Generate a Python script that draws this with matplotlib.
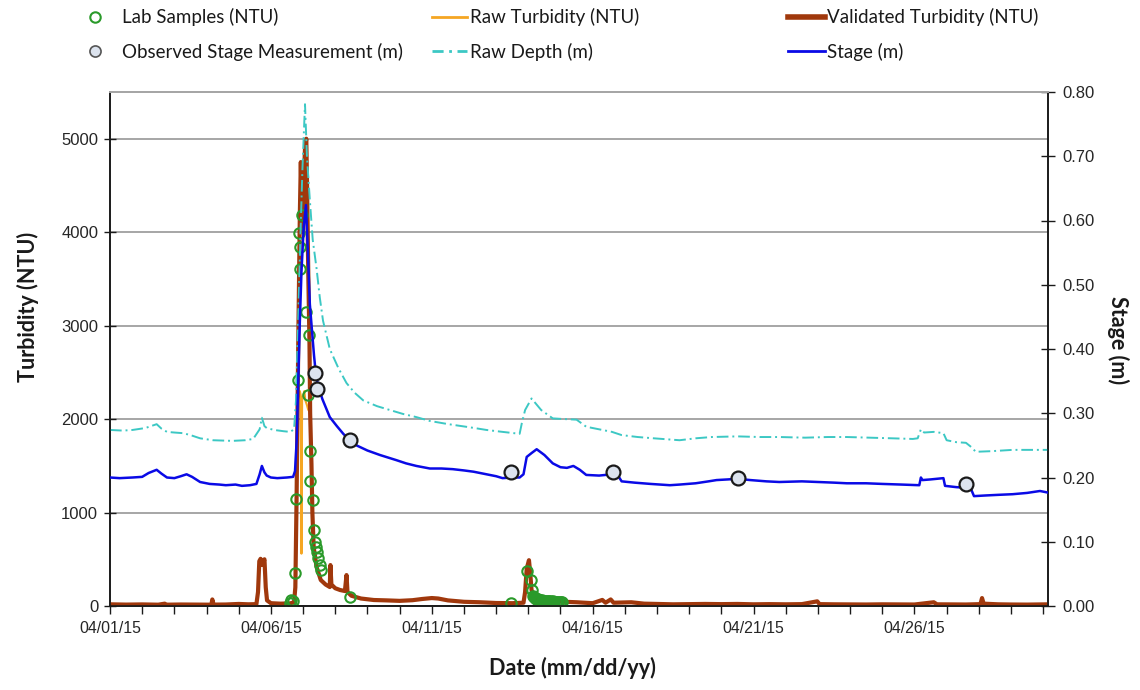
import numpy as np
import pandas as pd
import matplotlib
matplotlib.use("Agg")
import matplotlib.pyplot as plt
import matplotlib.dates as mdates
from matplotlib.lines import Line2D
from matplotlib.ticker import FixedLocator, FormatStrFormatter

# ---------------- DATA (days since 2015-04-01 00:00) ----------------
start_date = "2015-04-01"

stage_t = [0.0, 0.3, 0.7, 1.0, 1.2, 1.45, 1.6, 1.77, 2.0, 2.2, 2.38, 2.55, 2.8, 3.1, 3.4, 3.6, 3.9, 4.1,
           4.35, 4.55, 4.65, 4.72, 4.8, 4.87, 5.0, 5.2, 5.5, 5.69, 5.75, 5.80, 5.90, 5.95, 6.02, 6.09,
           6.15, 6.21, 6.34, 6.40, 6.47, 6.60, 6.83, 7.05, 7.25, 7.45, 7.66, 8.0, 8.39, 8.9, 9.2, 9.52,
           9.94, 10.3, 10.65, 11.0, 11.3, 11.7, 12.0, 12.2, 12.5, 12.73, 12.85, 12.95, 13.1, 13.26, 13.5,
           13.76, 14.0, 14.2, 14.4, 14.6, 14.8, 15.2, 15.6, 15.8, 15.9, 16.3, 16.8, 17.4, 17.7, 18.2, 18.6,
           18.85, 19.2, 19.5, 19.9, 20.4, 20.8, 21.5, 22.0, 22.5, 22.9, 23.5, 24.0, 24.6, 25.15, 25.2, 25.25,
           25.5, 25.9, 25.95, 26.3, 26.6, 26.75, 26.85, 27.2, 27.6, 28.05, 28.5, 28.9, 29.2]
stage_m = [0.200, 0.199, 0.200, 0.201, 0.207, 0.212, 0.206, 0.200, 0.199, 0.202, 0.205, 0.201, 0.193, 0.190,
           0.189, 0.188, 0.189, 0.187, 0.188, 0.190, 0.205, 0.218, 0.208, 0.203, 0.200, 0.199, 0.200, 0.201,
           0.210, 0.257, 0.443, 0.520, 0.590, 0.624, 0.550, 0.470, 0.390, 0.360, 0.342, 0.322, 0.294, 0.280,
           0.268, 0.258, 0.250, 0.242, 0.235, 0.227, 0.222, 0.218, 0.214, 0.214, 0.213, 0.211, 0.209, 0.205,
           0.202, 0.199, 0.200, 0.200, 0.205, 0.232, 0.238, 0.244, 0.235, 0.222, 0.216, 0.215, 0.218, 0.212,
           0.204, 0.203, 0.205, 0.202, 0.194, 0.192, 0.190, 0.188, 0.189, 0.191, 0.194, 0.196, 0.197, 0.198,
           0.196, 0.194, 0.193, 0.194, 0.193, 0.192, 0.191, 0.191, 0.190, 0.189, 0.188, 0.200, 0.196, 0.197,
           0.199, 0.187, 0.185, 0.184, 0.183, 0.171, 0.172, 0.173, 0.174, 0.176, 0.179, 0.176]

depth_t = [0.0, 0.4, 0.7, 1.1, 1.45, 1.6, 1.77, 2.0, 2.27, 2.5, 2.8, 3.2, 3.8, 4.2, 4.45, 4.65, 4.72, 4.8,
           4.87, 5.1, 5.4, 5.6, 5.72, 5.78, 5.85, 5.92, 5.98, 6.06, 6.12, 6.21, 6.3, 6.42, 6.52, 6.62, 6.83,
           7.1, 7.35, 7.6, 7.87, 8.3, 8.7, 9.1, 9.52, 9.94, 10.4, 10.65, 11.2, 11.7, 12.2, 12.73, 12.8, 12.9,
           13.1, 13.4, 13.76, 14.1, 14.5, 14.8, 15.2, 15.6, 15.9, 16.4, 16.9, 17.7, 18.2, 18.7, 19.5, 20.2,
           20.8, 21.6, 22.3, 22.9, 23.6, 24.3, 24.95, 25.1, 25.2, 25.3, 25.6, 25.9, 26.0, 26.3, 26.6, 26.8,
           26.9, 27.4, 28.05, 28.6, 29.2]
depth_m = [0.274, 0.273, 0.274, 0.277, 0.283, 0.276, 0.271, 0.270, 0.269, 0.266, 0.261, 0.258, 0.257, 0.258,
           0.260, 0.275, 0.293, 0.280, 0.277, 0.274, 0.272, 0.271, 0.275, 0.320, 0.450, 0.580, 0.680, 0.781,
           0.700, 0.632, 0.570, 0.525, 0.480, 0.444, 0.400, 0.370, 0.347, 0.332, 0.320, 0.311, 0.305, 0.299,
           0.294, 0.288, 0.284, 0.282, 0.278, 0.274, 0.271, 0.268, 0.285, 0.305, 0.323, 0.305, 0.292, 0.291,
           0.290, 0.279, 0.275, 0.271, 0.266, 0.263, 0.261, 0.258, 0.261, 0.263, 0.264, 0.263, 0.263, 0.262,
           0.263, 0.263, 0.262, 0.261, 0.260, 0.261, 0.275, 0.270, 0.271, 0.269, 0.258, 0.255, 0.254, 0.246,
           0.240, 0.241, 0.243, 0.243, 0.243]

turb_t = [0.0, 0.5, 1.0, 1.5, 1.7, 1.75, 2.2, 2.7, 3.15, 3.18, 3.22, 3.6, 4.0, 4.3, 4.55, 4.6, 4.64, 4.68,
          4.72, 4.76, 4.8, 4.84, 4.88, 5.0, 5.3, 5.6, 5.72, 5.76, 5.8, 5.85, 5.9, 5.93, 5.95, 5.98, 6.02,
          6.06, 6.1, 6.12, 6.16, 6.2, 6.22, 6.26, 6.29, 6.33, 6.42, 6.55, 6.7, 6.83, 6.85, 6.88, 7.0, 7.15,
          7.3, 7.35, 7.38, 7.5, 7.8, 8.2, 8.6, 9.0, 9.4, 9.7, 10.0, 10.2, 10.5, 11.0, 11.5, 12.0, 12.5,
          12.85, 12.9, 12.95, 13.02, 13.06, 13.1, 13.2, 13.5, 14.07, 14.5, 15.0, 15.3, 15.4, 15.56, 15.65,
          16.2, 16.6, 17.0, 17.5, 18.0, 18.5, 19.0, 19.5, 20.0, 20.5, 21.0, 21.5, 21.98, 22.05, 22.5, 23.0,
          23.5, 24.0, 24.5, 25.0, 25.6, 25.7, 26.2, 26.6, 27.05, 27.1, 27.15, 27.6, 28.0, 28.5, 29.2]
turb_ntu = [18, 15, 17, 14, 25, 14, 16, 15, 14, 70, 15, 16, 22, 18, 20, 150, 480, 505, 440, 470, 500, 200,
            60, 30, 25, 28, 40, 200, 1200, 2800, 4200, 4750, 4400, 4000, 4500, 4900, 5000, 4600, 3600, 2800,
            2060, 1528, 993, 630, 417, 278, 230, 203, 438, 230, 190, 171, 160, 331, 150, 110, 80, 64, 60, 55,
            62, 75, 85, 80, 60, 45, 40, 32, 30, 35, 150, 400, 490, 350, 171, 85, 60, 46, 40, 30, 65, 35, 70,
            35, 40, 25, 22, 18, 20, 22, 20, 22, 18, 20, 18, 20, 50, 20, 18, 17, 16, 18, 17, 16, 40, 18, 17,
            16, 20, 85, 25, 18, 16, 15, 18]

# raw turbidity differs from validated only during the main peak
raw_peak_t = [5.72, 5.76, 5.8, 5.83, 5.87, 5.9, 5.93, 5.95, 5.97, 6.0, 6.04, 6.07, 6.12, 6.16, 6.2, 6.22]
raw_peak_ntu = [40, 200, 1200, 2200, 2250, 2300, 2250, 560, 2200, 2250, 2300, 2200, 2150, 2100, 2080, 2060]

lab_t = [5.59, 5.64, 5.69, 5.75, 5.78, 5.85, 5.87, 5.90, 5.92, 5.98, 6.08, 6.16, 6.19, 6.21, 6.23, 6.30,
         6.35, 6.38, 6.40, 6.44, 6.46, 6.52, 6.57, 7.45, 12.47, 12.96, 13.07, 13.11,
         13.14, 13.17, 13.20, 13.23, 13.26, 13.30, 13.33, 13.37, 13.41, 13.45, 13.49, 13.53, 13.57, 13.61,
         13.65, 13.69, 13.73, 13.77, 13.81, 13.85, 13.89, 13.93, 13.97, 14.01, 14.05]
lab_ntu = [35, 64, 53, 356, 1140, 2414, 3988, 3839, 3608, 4188, 3141, 2254, 2900, 1659, 1335, 1132,
           812, 680, 634, 580, 509, 438, 385, 93, 30, 377, 278, 171,
           110, 95, 88, 80, 75, 70, 66, 62, 60, 58, 55, 54, 52, 50, 52, 49, 47, 50, 46, 45, 48, 44, 46, 43, 45]

obs_t = [6.37, 6.44, 7.47, 12.47, 15.63, 19.51, 26.60]
obs_m = [0.363, 0.338, 0.258, 0.209, 0.209, 0.199, 0.190]

turb_ticks = [0, 1000, 2000, 3000, 4000, 5000]
stage_ticks = [0.0, 0.1, 0.2, 0.3, 0.4, 0.5, 0.6, 0.7, 0.8]
x_end_days = 29.15

# ---------------- helpers ----------------
base = pd.Timestamp(start_date)
def to_dt(days):
    return base + pd.to_timedelta(np.asarray(days, dtype=float), unit="D")

# build raw turbidity series from validated + peak patch
vt = np.asarray(turb_t); vv = np.asarray(turb_ntu, dtype=float)
before = vt < raw_peak_t[0]
after = vt > raw_peak_t[-1]
raw_t = np.concatenate([vt[before], raw_peak_t, vt[after]])
raw_v = np.concatenate([vv[before], raw_peak_ntu, vv[after]])

# ---------------- figure ----------------
W, H = 1140, 690
fig = plt.figure(figsize=(W / 100, H / 100), dpi=100)
L, R, T, B = 110, 1048, 92, 606
ax = fig.add_axes([L / W, 1 - B / H, (R - L) / W, (B - T) / H])
ax2 = ax.twinx()

c_lab = "#2a9a2a"
c_raw = "#f5a623"
c_val = "#a0380c"
c_depth = "#3cc8c4"
c_stage = "#0a0ae6"
c_grid = "#a6a6a6"

# turbidity axis
ax.plot(to_dt(raw_t), raw_v, color=c_raw, lw=1.5, zorder=2)
ax.plot(to_dt(turb_t), turb_ntu, color=c_val, lw=3.0, zorder=3)
ax.plot(to_dt(lab_t), lab_ntu, ls="none", marker="o", ms=7.5, mfc="none", mec=c_lab, mew=1.5, zorder=4)

# stage axis
ax2.plot(to_dt(depth_t), depth_m, color=c_depth, lw=1.4, ls=(0, (6, 2, 1, 2)), zorder=2)
ax2.plot(to_dt(stage_t), stage_m, color=c_stage, lw=1.8, zorder=3)
ax2.plot(to_dt(obs_t), obs_m, ls="none", marker="o", ms=10, mfc="#dce3ee", mec="#1a1a1a", mew=1.6, zorder=4)

ax.set_xlim(to_dt(0), to_dt(x_end_days))
ax.set_ylim(0, 5500)
ax2.set_ylim(0, 0.8)

ax.yaxis.set_major_locator(FixedLocator(turb_ticks))
ax2.yaxis.set_major_locator(FixedLocator(stage_ticks))
ax2.yaxis.set_major_formatter(FormatStrFormatter("%.2f"))

ax.xaxis.set_major_locator(mdates.DayLocator(bymonthday=[1, 6, 11, 16, 21, 26]))
ax.xaxis.set_minor_locator(mdates.DayLocator())
ax.xaxis.set_major_formatter(mdates.DateFormatter("%m/%d/%y"))

ax.grid(axis="y", color=c_grid, lw=1.4)
ax.set_axisbelow(True)

for a in (ax, ax2):
    for s in a.spines.values():
        s.set_linewidth(1.2)
        s.set_color("#1a1a1a")
    a.spines["top"].set_color(c_grid)
    a.spines["top"].set_linewidth(1.4)

ax.tick_params(axis="x", which="both", direction="out", length=6, width=1, colors="#1a1a1a", pad=5)
ax.tick_params(axis="y", direction="inout", length=9, width=1, colors="#1a1a1a", pad=4)
ax2.tick_params(axis="y", direction="inout", length=10, width=1, colors="#1a1a1a", pad=5)
for lab in ax.get_xticklabels():
    lab.set_fontfamily("Liberation Sans"); lab.set_fontsize(11.4); lab.set_color("#262626")
for lab in ax.get_yticklabels() + ax2.get_yticklabels():
    lab.set_fontfamily("Liberation Sans"); lab.set_fontsize(12); lab.set_color("#262626")

# axis titles
lab_font = dict(family="Lato", weight="bold", size=15.5, color="#1a1a1a")
fig.text(28 / W, 1 - 307 / H, "Turbidity (NTU)", rotation=90, ha="center", va="center", **lab_font)
fig.text(1118 / W, 1 - 340 / H, "Stage (m)", rotation=270, ha="center", va="center", **lab_font)
fig.text(572 / W, 1 - 668 / H, "Date (mm/dd/yy)", ha="center", va="center", **lab_font)

# legend (three columns placed explicitly)
leg_font = dict(family="Lato", size=13.5)
h_lab = Line2D([], [], ls="none", marker="o", ms=7.5, mfc="none", mec=c_lab, mew=1.5)
h_obs = Line2D([], [], ls="none", marker="o", ms=8, mfc="#dce3ee", mec="#555555", mew=1.2)
h_raw = Line2D([], [], color=c_raw, lw=2)
h_depth = Line2D([], [], color=c_depth, lw=2, ls=(0, (4, 2, 1, 2)))
h_val = Line2D([], [], color=c_val, lw=4)
h_stage = Line2D([], [], color=c_stage, lw=2)

cols = [
    (84, [h_lab, h_obs], ["Lab Samples (NTU)", "Observed Stage Measurement (m)"], 1.2, 0.84),
    (432, [h_raw, h_depth], ["Raw Turbidity (NTU)", "Raw Depth (m)"], 1.87, 0.16),
    (788, [h_val, h_stage], ["Validated Turbidity (NTU)", "Stage (m)"], 1.95, 0.12),
]
for x0, hs, ls_, hl, htp in cols:
    lg = fig.legend(hs, ls_, loc="upper left", bbox_to_anchor=(x0 / W, 1 - 8 / H),
                    frameon=False, prop=leg_font, handlelength=hl, handletextpad=htp,
                    labelspacing=0.9, borderpad=0, borderaxespad=0)
    for t in lg.get_texts():
        t.set_color("#1a1a1a")

fig.savefig("out.png", dpi=100)
